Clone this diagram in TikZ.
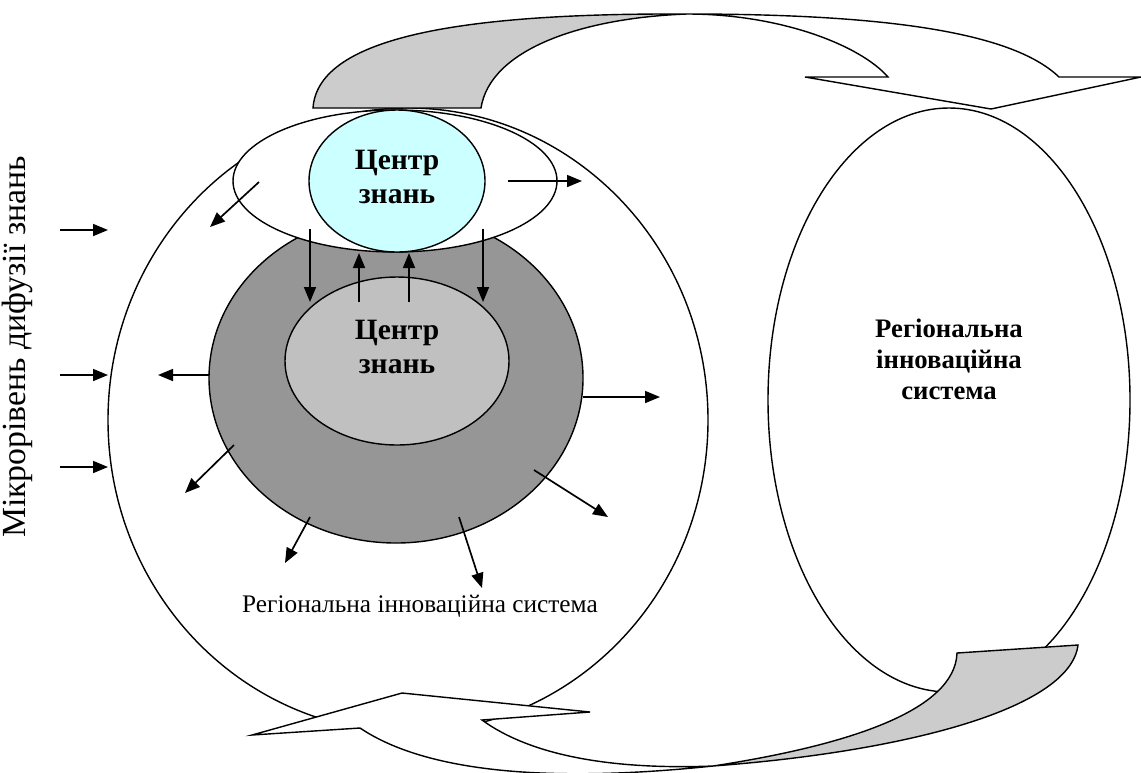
\documentclass[tikz,border=0pt]{standalone}
\usepackage{fontspec}
\setmainfont{Liberation Serif}
\usetikzlibrary{shapes.geometric,arrows.meta}
\newcommand{\pxu}[1]{#1*0.025cm}
\definecolor{arrgray}{HTML}{CCCCCC}
\definecolor{darkg}{HTML}{969696}
\definecolor{lightg}{HTML}{C0C0C0}
\definecolor{cyanc}{HTML}{CCFFFF}
\tikzset{
  shp/.style={draw, line width=1pt, ellipse, inner sep=0pt},
  arr/.style={line width=1.2pt, -{Triangle[length=\pxu{15},width=\pxu{12}]}},
  bandw/.style={draw, line width=1pt, fill=white, line join=miter},
  bandg/.style={draw, line width=1pt, fill=arrgray, line join=miter},
  boldtxt/.style={font=\bfseries\fontsize{21}{24}\selectfont, align=center},
}
\begin{document}
\begin{tikzpicture}[x=0.025cm, y=-0.025cm]
\useasboundingbox (0,0) rectangle (1141,772);
% main shapes
\node[shp, minimum width=\pxu{600}, minimum height=\pxu{624}] (big) at (408,420) {};
\node[shp, fill=darkg, minimum width=\pxu{374}, minimum height=\pxu{330}] (dg) at (396,378) {};
\node[shp, fill=lightg, minimum width=\pxu{224}, minimum height=\pxu{168}] (lg) at (397,361) {};
\node[boldtxt] (lgt) at (397,347) {Центр\\знань};
\node[shp, fill=white, minimum width=\pxu{324}, minimum height=\pxu{142}] (we) at (395,181) {};
\node[shp, fill=cyanc, minimum width=\pxu{176}, minimum height=\pxu{142}] (cy) at (397,181) {};
\node[boldtxt] (cyt) at (397,177) {Центр\\знань};
\node[shp, minimum width=\pxu{362}, minimum height=\pxu{584}] (re) at (949,400) {};
\node[font=\bfseries\fontsize{19}{22}\selectfont, align=center] (ret) at (949,359) {Регіональна\\інноваційна\\система};
% labels
\node[font=\fontsize{18}{21}\selectfont, anchor=base] (lbl) at (420,612) {Регіональна інноваційна система};
\node[font=\fontsize{24}{28}\selectfont, rotate=90] (micro) at (17,347) {Мікрорівень дифузії знань};
% arrow endpoints
\coordinate (a1s) at (60,230);  \coordinate (a1e) at (108,230);
\coordinate (a2s) at (60,375);  \coordinate (a2e) at (108,375);
\coordinate (a3s) at (60,467);  \coordinate (a3e) at (108,467);
\coordinate (a4s) at (209,375); \coordinate (a4e) at (158,375);
\coordinate (a5s) at (259,182); \coordinate (a5e) at (210,227);
\coordinate (a6s) at (508,181); \coordinate (a6e) at (582,181);
\coordinate (a7s) at (310,229); \coordinate (a7e) at (310,302);
\coordinate (a8s) at (483,229); \coordinate (a8e) at (483,302);
\coordinate (a9s) at (359,302); \coordinate (a9e) at (359,253);
\coordinate (a10s) at (409,302); \coordinate (a10e) at (409,253);
\coordinate (a11s) at (583,397); \coordinate (a11e) at (660,397);
\coordinate (a12s) at (234,445); \coordinate (a12e) at (185,493);
\coordinate (a13s) at (310,517); \coordinate (a13e) at (285,563);
\coordinate (a14s) at (459,517); \coordinate (a14e) at (482,588);
\coordinate (a15s) at (534,470); \coordinate (a15e) at (608,517);
\foreach \i in {1,...,15} { \draw[arr] (a\i s) -- (a\i e); }
% top curved arrow
\draw[bandw] (687,14) .. controls (900,14) and (1015,35) .. (1059,77) -- (1141,77) -- (991,109) -- (805,77) -- (888,77) .. controls (860,45) and (780,14) .. (687,14) -- cycle;
\draw[bandg] (313,108) .. controls (318,35) and (470,13) .. (687,14) .. controls (580,18) and (490,50) .. (481,108) -- cycle;
% bottom curved arrow
\draw[bandw] (360,728) .. controls (430,775) and (560,782) .. (713,766) .. controls (610,770) and (530,755) .. (482,720) -- (590,712) -- (402,693) -- (252,735) -- cycle;
\draw[bandg] (713,766) .. controls (900,752) and (1070,710) .. (1078,645) -- (957,653) .. controls (955,710) and (850,745) .. (713,766) -- cycle;
\end{tikzpicture}
\end{document}
